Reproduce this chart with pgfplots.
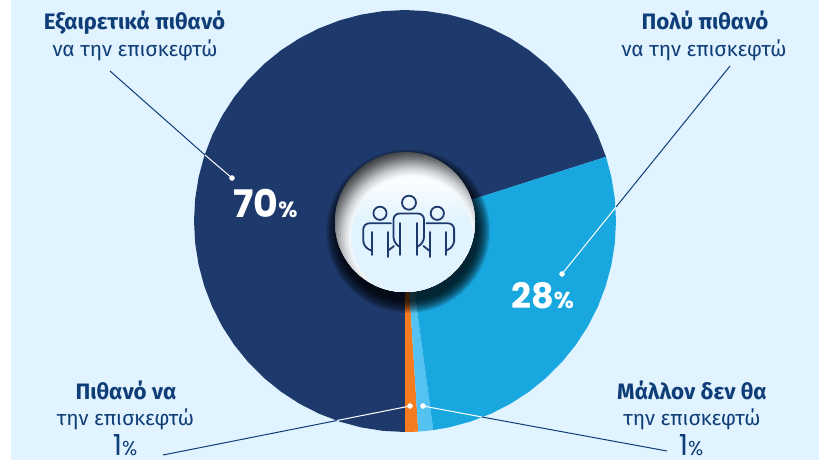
\documentclass[border=0pt]{standalone}
\usepackage{fontspec}
\setmainfont{Fira Sans}
\newfontfamily\numfont{Poppins}
\usepackage{pgfplots}
\pgfplotsset{compat=1.18}
\definecolor{bgblue}{HTML}{E0F3FE}
\definecolor{navy}{HTML}{1E3A6C}
\definecolor{skyb}{HTML}{19A7E0}
\definecolor{lightb}{HTML}{54C3F2}
\definecolor{orng}{HTML}{F47B20}
\definecolor{txt}{HTML}{0F3D78}
\definecolor{rimg}{HTML}{3F4346}
\definecolor{lite}{HTML}{FAFDFF}
\begin{document}
\begin{tikzpicture}
\useasboundingbox (0,0) rectangle (819pt,460pt);
\begin{scope}[shift={(0,460pt)},x=1pt,y=-1pt]
\fill[white] (0,0) rectangle (819,460);
\fill[bgblue] (11,0) rectangle (819,460);
\end{scope}
% pie centre sits at pixel (405,221), axis units are pixels
\begin{axis}[
    scale only axis,
    width=819pt, height=460pt,
    xmin=-405, xmax=414,
    ymin=-239, ymax=221,
    hide axis,
    clip=false,
    data cs=polar,
]
% 70%
\addplot[fill=navy,draw=none] coordinates {(0,0) (17.7,211) (24,211) (30,211) (36,211) (42,211) (48,211) (54,211) (60,211) (66,211) (72,211) (78,211) (84,211) (90,211) (96,211) (102,211) (108,211) (114,211) (120,211) (126,211) (132,211) (138,211) (144,211) (150,211) (156,211) (162,211) (168,211) (174,211) (180,211) (186,211) (192,211) (198,211) (204,211) (210,211) (216,211) (222,211) (228,211) (234,211) (240,211) (246,211) (252,211) (258,211) (264,211) (270,211)} -- cycle;
% 1% orange
\addplot[fill=orng,draw=none] coordinates {(0,0) (270,211) (272,211) (273.6,211)} -- cycle;
% 1% light
\addplot[fill=lightb,draw=none] coordinates {(0,0) (273.6,211) (275.6,211) (277.7,211)} -- cycle;
% 28%
\addplot[fill=skyb,draw=none] coordinates {(0,0) (277.7,211) (282,211) (288,211) (294,211) (300,211) (306,211) (312,211) (318,211) (324,211) (330,211) (336,211) (342,211) (348,211) (354,211) (360,211) (366,211) (372,211) (377.7,211)} -- cycle;
\end{axis}
\begin{axis}[
    scale only axis,
    width=819pt, height=460pt,
    xmin=0, xmax=819,
    ymin=0, ymax=460,
    y dir=reverse,
    hide axis,
    clip=false,
]
% leader lines, pixel coordinates
\addplot[txt,line width=1pt] coordinates {(110,71) (205,155)};
\addplot[white,line width=1pt] coordinates {(205,155) (232,178)};
\addplot[txt,line width=1pt] coordinates {(730,66) (616,207)};
\addplot[white,line width=1pt] coordinates {(616,207) (562,274)};
\addplot[txt,line width=1pt] coordinates {(163,455) (337,420.5)};
\addplot[white,line width=1pt] coordinates {(337,420.5) (410,406)};
\addplot[txt,line width=1pt] coordinates {(667,451) (482,417)};
\addplot[white,line width=1pt] coordinates {(482,417) (423,406)};
\addplot[only marks,mark=*,mark size=2.5pt,white,mark options={draw=none,fill=white}] coordinates {(232,178) (562,274) (410,406) (423,406)};
\end{axis}
\begin{scope}[shift={(0,460pt)},x=1pt,y=-1pt]
% shadow under the disc
\foreach \r in {70,71,...,82} {
  \fill[black,opacity=.1] (408,231) circle (\r);
}
% disc with inner shadow
\begin{scope}
\clip (405,222) circle (70);
\fill[rimg] (405,222) circle (70);
\foreach \r/\p in {85/6,83/14,81/22,79/31,77/40,75/50,73/60,71/69,69/77,67/84,65/90,63/96} {
  \fill[lite!\p!rimg] (412,237) circle (\r);
}
\begin{scope}
\clip (412,237) circle (61);
\fill[lite] (335,150) rectangle (475,182);
\shade[top color=lite,bottom color=bgblue] (335,182) rectangle (475,222);
\fill[bgblue] (335,222) rectangle (475,294);
\end{scope}
\end{scope}
% icon
\begin{scope}[line width=1.8pt,draw=navy,line cap=round,line join=round]
\draw (409,202.7) circle (7);
\draw (380,213.3) circle (6.6);
\draw (437.3,213.3) circle (6.6);
% centre person
\draw (400,223) -- (400,255);
\draw (416.7,223) -- (416.7,255);
\draw[rounded corners=6pt] (400,247) -- (393.5,243) -- (393.5,213.5) -- (424,213.5) -- (424,243) -- (416.7,247);
% left person
\draw (371.7,232) -- (371.7,255);
\draw (387.7,232) -- (387.7,257);
\draw (387.7,251) -- (394,246);
\draw[rounded corners=6pt] (391,223.3) -- (363.3,223.3) -- (363.3,246.7) -- (371.7,250.7);
% right person
\draw (445.7,232) -- (445.7,255);
\draw (429.7,232) -- (429.7,257);
\draw (429.7,251) -- (423.4,246);
\draw[rounded corners=6pt] (426.4,223.3) -- (454.1,223.3) -- (454.1,246.7) -- (445.7,250.7);
\end{scope}
% labels
\tikzset{lab/.style={anchor=base,inner sep=0pt,text=txt}}
\node[lab] at (134.5,30) {\fontsize{22.3}{22}\selectfont\bfseries Εξαιρετικά πιθανό};
\node[lab] at (135,57) {\fontsize{20.8}{20}\selectfont να την επισκεφτώ};
\node[lab] at (705,30) {\fontsize{22.3}{22}\selectfont\bfseries Πολύ πιθανό};
\node[lab] at (704,57) {\fontsize{20.8}{20}\selectfont να την επισκεφτώ};
\node[lab] at (126,400) {\fontsize{22.3}{22}\selectfont\bfseries Πιθανό να};
\node[lab] at (125.5,426) {\fontsize{20.8}{20}\selectfont την επισκεφτώ};
\node[lab] at (692,400) {\fontsize{22.3}{22}\selectfont\bfseries Μάλλον δεν θα};
\node[lab] at (692,426) {\fontsize{20.8}{20}\selectfont την επισκεφτώ};
\node[lab] at (125,456) {\numfont\fontsize{29}{29}\selectfont 1{\fontsize{20}{20}\selectfont\%}};
\node[lab] at (691,456) {\numfont\fontsize{29}{29}\selectfont 1{\fontsize{20}{20}\selectfont\%}};
\node[lab,text=white] at (265.5,218) {\numfont\bfseries\fontsize{38}{38}\selectfont 70{\fontsize{22}{22}\selectfont\%}};
\node[lab,text=white] at (542.5,309) {\numfont\bfseries\fontsize{35}{35}\selectfont 28{\fontsize{23}{23}\selectfont\%}};
\end{scope}
\end{tikzpicture}
\end{document}
